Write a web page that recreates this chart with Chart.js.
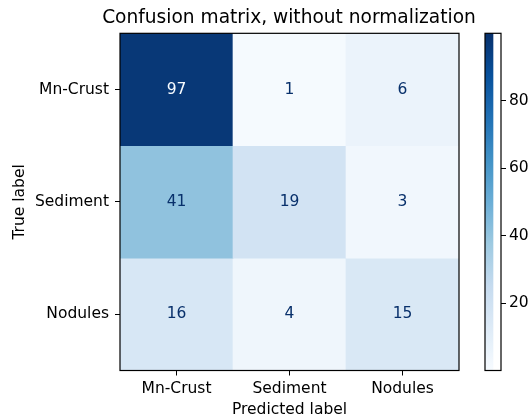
<!DOCTYPE html>
<html>
<head>
<meta charset="utf-8">
<script src="https://cdn.jsdelivr.net/npm/chart.js@4/dist/chart.umd.min.js"></script>
<style>
  html, body { margin: 0; padding: 0; background: #fff; overflow: hidden; }
  #wrap { position: relative; width: 531px; height: 417px; overflow: hidden; }
  #cm { position: absolute; left: 0; top: 0; }
  #cb { position: absolute; left: 470px; top: 0; }
</style>
</head>
<body>
<div id="wrap">
  <canvas id="cm" width="578" height="417"></canvas>
  <canvas id="cb" width="61" height="417"></canvas>
</div>
<script>
// ---- data ----
const titleText = 'Confusion matrix, without normalization';
const trueLabels = ['Mn-Crust', 'Sediment', 'Nodules'];
const predictedLabels = ['Mn-Crust', 'Sediment', 'Nodules'];
const rowMnCrust = [97, 1, 6];
const rowSediment = [41, 19, 3];
const rowNodules = [16, 4, 15];
const colorbarTicks = [20, 40, 60, 80];
const colorMin = 0;
const colorMax = 100;

const rows = [rowMnCrust, rowSediment, rowNodules];

// matplotlib "Blues" colormap anchors
const bluesAnchors = [
  [0.9686, 0.9843, 1.0000], [0.8706, 0.9216, 0.9686], [0.7765, 0.8588, 0.9373],
  [0.6196, 0.7922, 0.8824], [0.4196, 0.6824, 0.8392], [0.2588, 0.5725, 0.7765],
  [0.1294, 0.4431, 0.7098], [0.0314, 0.3176, 0.6118], [0.0314, 0.1882, 0.4196]
];
function blues(t) {
  t = Math.max(0, Math.min(1, t));
  const p = t * (bluesAnchors.length - 1);
  const i = Math.min(Math.floor(p), bluesAnchors.length - 2);
  const f = p - i;
  const a = bluesAnchors[i], b = bluesAnchors[i + 1];
  const c = a.map((v, k) => Math.round(255 * (v + (b[k] - v) * f)));
  return `rgb(${c[0]},${c[1]},${c[2]})`;
}
function colorFor(v) { return blues((v - colorMin) / (colorMax - colorMin)); }

Chart.defaults.font.family = "'DejaVu Sans', sans-serif";
Chart.defaults.color = '#000';

const tickFont = { size: 15.5 };
const threshold = (Math.max(...rows.flat()) + Math.min(...rows.flat())) / 2;

const frame = {
  id: 'frame',
  afterDatasetsDraw(chart) {
    const a = chart.chartArea, ctx = chart.ctx;
    ctx.save();
    ctx.strokeStyle = '#000';
    ctx.lineWidth = 1.2;
    ctx.strokeRect(a.left, a.top, a.right - a.left, a.bottom - a.top);
    ctx.restore();
  }
};

const cellText = {
  id: 'cellText',
  afterDatasetsDraw(chart) {
    const ctx = chart.ctx;
    ctx.save();
    ctx.font = "15.5px 'DejaVu Sans', sans-serif";
    ctx.textAlign = 'center';
    ctx.textBaseline = 'middle';
    chart.data.datasets.forEach((ds, i) => {
      const meta = chart.getDatasetMeta(i);
      meta.data.forEach((el, j) => {
        const v = rows[i][j];
        const cy = (el.y + el.base) / 2;
        ctx.fillStyle = v > threshold ? blues(0) : blues(1);
        ctx.fillText(String(v), el.x, cy);
      });
    });
    ctx.restore();
  }
};

new Chart(document.getElementById('cm'), {
  type: 'bar',
  data: {
    labels: predictedLabels,
    datasets: rows.map((r, i) => ({
      label: trueLabels[i],
      data: r.map(() => [i - 0.5, i + 0.5]),
      backgroundColor: r.map(v => colorFor(v)),
      borderWidth: 0,
      barPercentage: 1,
      categoryPercentage: 1,
      grouped: false
    }))
  },
  options: {
    responsive: false,
    animation: false,
    events: [],
    layout: { padding: 0 },
    plugins: {
      legend: { display: false },
      tooltip: { enabled: false },
      title: {
        display: true,
        text: titleText,
        fullSize: true,
        color: '#000',
        font: { size: 18.6, weight: 'normal', lineHeight: 1.2 },
        padding: { top: 7.5, bottom: 3.5 }
      }
    },
    scales: {
      x: {
        type: 'category',
        offset: true,
        grid: { display: true, drawOnChartArea: false, offset: false, tickLength: 5, tickColor: '#000', tickWidth: 1 },
        border: { display: false },
        ticks: { font: tickFont, color: '#000', padding: 4, maxRotation: 0, autoSkip: false },
        title: { display: true, text: 'Predicted label', font: { size: 15.5, lineHeight: 0.85 }, color: '#000', padding: { top: 0, bottom: 0.5 } },
        afterFit(scale) { scale.height = 46.5; }
      },
      y: {
        type: 'linear',
        min: -0.5,
        max: 2.5,
        reverse: true,
        grid: { display: true, drawOnChartArea: false, tickLength: 5, tickColor: '#000', tickWidth: 1 },
        border: { display: false },
        afterBuildTicks(scale) { scale.ticks = [0, 1, 2].map(v => ({ value: v })); },
        ticks: { font: tickFont, color: '#000', padding: 6, autoSkip: false, callback: v => trueLabels[v] },
        title: { display: true, text: 'True label', font: { size: 15.5, lineHeight: 1.2 }, color: '#000', padding: { top: 11, bottom: 0 } },
        afterFit(scale) { scale.width = 120; }
      },
      spacer: {
        type: 'linear',
        position: 'right',
        display: true,
        grid: { display: false },
        border: { display: false },
        ticks: { display: false },
        afterFit(scale) { scale.width = 119; }
      }
    }
  },
  plugins: [cellText, frame]
});

// ---- colorbar ----
new Chart(document.getElementById('cb'), {
  type: 'bar',
  data: {
    labels: [''],
    datasets: [{
      data: [[colorMin, colorMax]],
      borderWidth: 0,
      barPercentage: 1,
      categoryPercentage: 1,
      backgroundColor(ctx) {
        const area = ctx.chart.chartArea;
        if (!area) return blues(0.5);
        const g = ctx.chart.ctx.createLinearGradient(0, area.bottom, 0, area.top);
        for (let k = 0; k <= 32; k++) g.addColorStop(k / 32, blues(k / 32));
        return g;
      }
    }]
  },
  options: {
    responsive: false,
    animation: false,
    events: [],
    layout: { padding: { left: 15, right: 0, top: 33.3, bottom: 46.5 } },
    plugins: { legend: { display: false }, tooltip: { enabled: false }, title: { display: false } },
    scales: {
      x: { display: false, offset: false },
      y: {
        position: 'right',
        min: colorMin,
        max: colorMax,
        grid: { display: true, drawOnChartArea: false, tickLength: 5, tickColor: '#000', tickWidth: 1 },
        border: { display: false },
        afterBuildTicks(scale) { scale.ticks = colorbarTicks.map(v => ({ value: v })); },
        ticks: { font: tickFont, color: '#000', padding: 3 },
        afterFit(scale) { scale.width = 30; }
      }
    }
  },
  plugins: [frame]
});
</script>
</body>
</html>
